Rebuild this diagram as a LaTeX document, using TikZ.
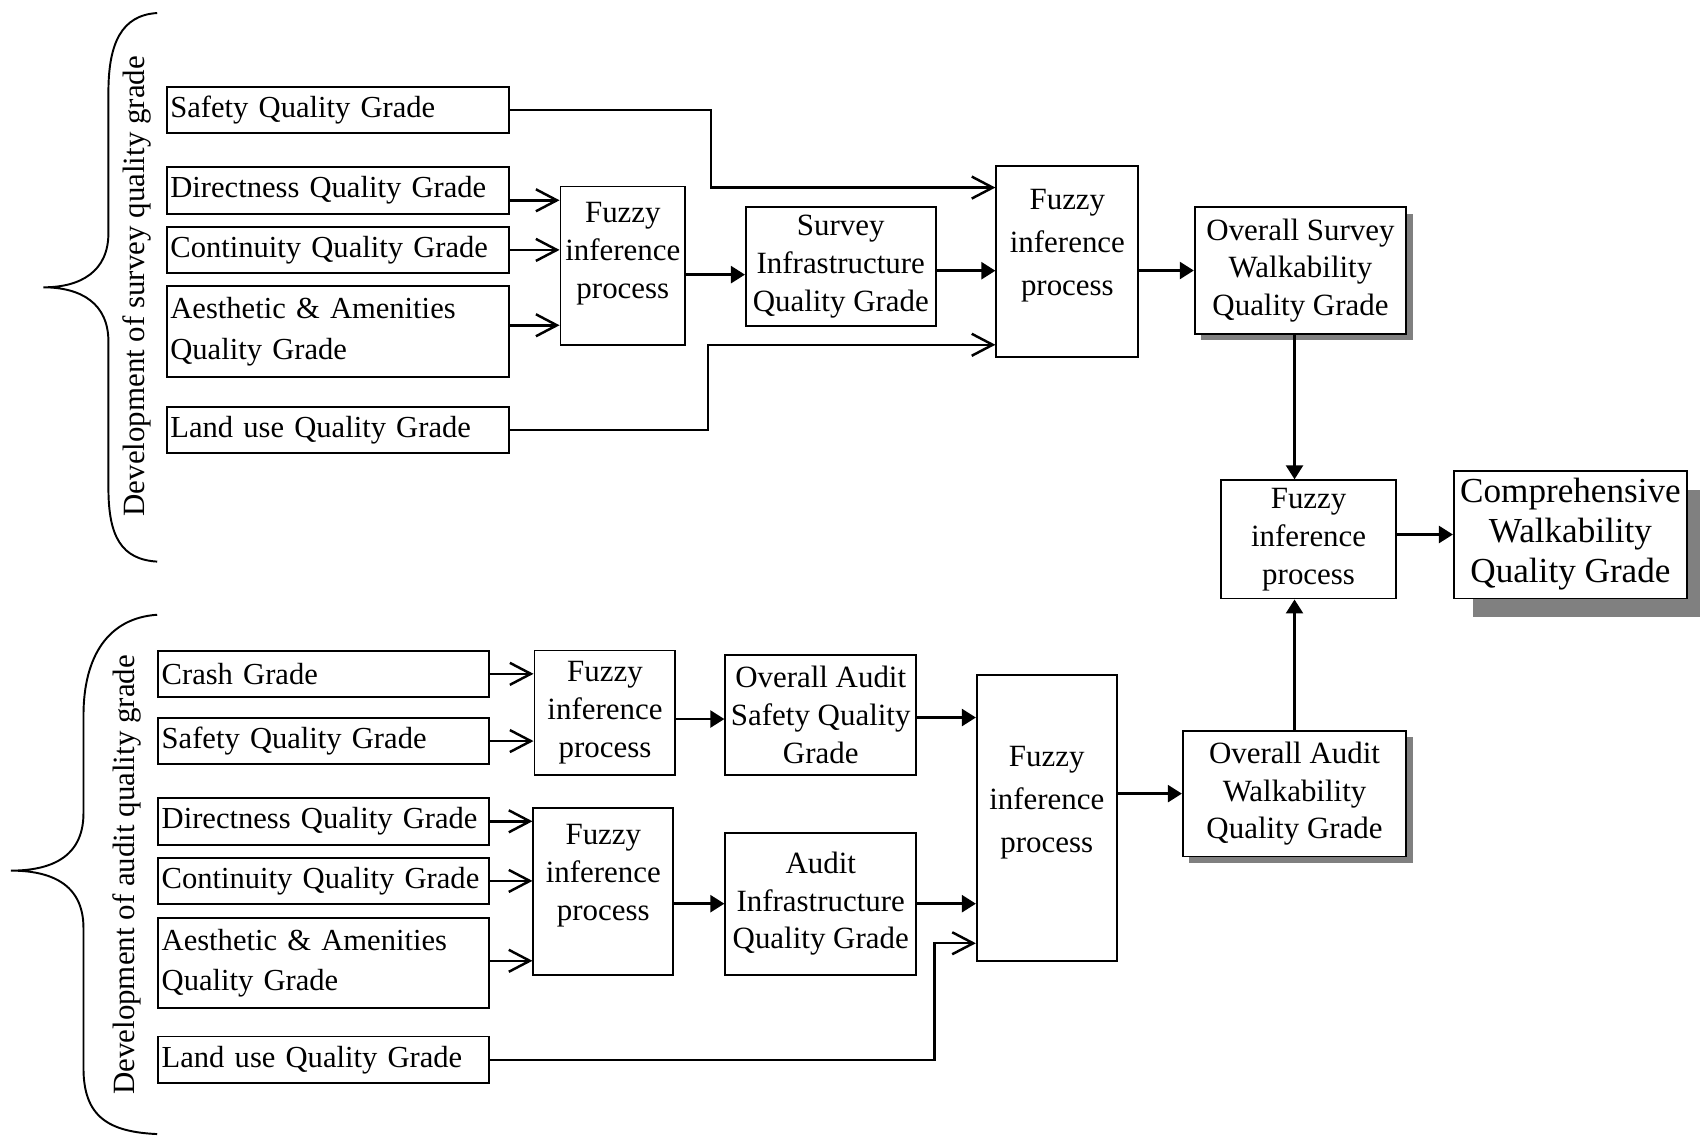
\documentclass[tikz,border=0pt]{standalone}
\usepackage{fontspec}
\setmainfont{Liberation Serif}
\usetikzlibrary{arrows.meta,shadows}
\newcommand\gradefont{\fontsize{17.4pt}{23pt}\selectfont}
\newcommand\fuzzyfont{\fontsize{17.6pt}{21.5pt}\selectfont}
\newcommand\compfont{\fontsize{20pt}{22.8pt}\selectfont}

\begin{document}
\begin{tikzpicture}[x=0.021684cm, y=-0.021684cm,
  box/.style={draw, line width=1.1pt, fill=white},
  grade/.style={box, anchor=west, align=left, inner xsep=2pt, inner ysep=0pt, font=\gradefont},
  sgrade/.style={grade, text width=6.71cm, minimum height=0.932cm},
  agrade/.style={grade, text width=6.47cm, minimum height=0.932cm},
  fuzzy/.style={box, align=center, inner sep=1pt, font=\fuzzyfont},
  smallshadow/.style={drop shadow={shadow xshift=0.13cm, shadow yshift=-0.13cm, fill=black!50, opacity=1}},
  bigshadow/.style={drop shadow={shadow xshift=0.38cm, shadow yshift=-0.38cm, fill=black!50, opacity=1}},
  openarr/.style={line width=1.4pt, -{Straight Barb[length=0.42cm,width=0.44cm]}},
  fillarr/.style={line width=1.4pt, -{Triangle[length=0.28cm,width=0.34cm]}},
  brace/.style={line width=1.1pt},
]
  \useasboundingbox (0,0) rectangle (1568,1048);

  % survey side
  \draw[brace] (145,12) .. controls (112,14) and (100,40) .. (100,85) -- (100,215)
    .. controls (100,250) and (75,265) .. (40,265) .. controls (75,265) and (100,280) .. (100,315)
    -- (100,450) .. controls (100,495) and (112,516) .. (145,518);
  \node[rotate=90, font=\fuzzyfont] (lblsurvey) at (126,264) {Development of survey quality grade};

  \node[sgrade] (saf) at (153,101.5) {Safety Quality Grade};
  \node[sgrade] (dir) at (153,175.5) {Directness Quality Grade};
  \node[sgrade] (con) at (153,230.5) {Continuity Quality Grade};
  \node[sgrade, minimum height=1.821cm] (aes) at (153,306) {Aesthetic \& Amenities\\Quality Grade};
  \node[sgrade] (lu) at (153,396.5) {Land use Quality Grade};

  \node[fuzzy, minimum width=2.494cm, minimum height=3.166cm] (fz1) at (574.5,245) {Fuzzy\\inference\\process\\[-4pt]\mbox{}};
  \node[fuzzy, minimum width=3.795cm, minimum height=2.385cm] (sinf) at (775.5,246) {Survey\\Infrastructure\\Quality Grade};
  \node[fuzzy, minimum width=2.841cm, minimum height=3.816cm] (fz2) at (984.5,241) {Fuzzy\\[3pt]inference\\[3pt]process\\\mbox{}};
  \node[fuzzy, smallshadow, minimum width=4.228cm, minimum height=2.537cm] (ovs) at (1199.5,249.5) {Overall Survey\\Walkability\\Quality Grade};

  \coordinate (j1) at (656,173);
  \coordinate (j2) at (653,318);
  \draw[openarr] (saf.east) -| (j1) -- (j1 -| fz2.west);
  \draw[openarr] ([yshift=-0.2cm]dir.east) -- ([yshift=-0.2cm]dir.east -| fz1.west);
  \draw[openarr] (con.east) -- (con.east -| fz1.west);
  \draw[openarr] ([yshift=0.13cm]aes.east) -- ([yshift=0.13cm]aes.east -| fz1.west);
  \draw[openarr] (lu.east) -| (j2) -- (j2 -| fz2.west);
  \draw[fillarr] ([yshift=-0.18cm]fz1.east) -- ([yshift=-0.18cm]fz1.east -| sinf.west);
  \draw[fillarr] ([yshift=-0.08cm]sinf.east) -- ([yshift=-0.08cm]sinf.east -| fz2.west);
  \draw[fillarr] (fz2.east |- ovs.west) -- (ovs.west);

  % final stage
  \node[fuzzy, minimum width=3.513cm, minimum height=2.364cm] (fzf) at (1207,497.5) {Fuzzy\\inference\\process};
  \node[box, bigshadow, align=center, inner sep=1pt, font=\compfont, minimum width=4.662cm, minimum height=2.559cm] (comp) at (1448.5,493) {Comprehensive\\Walkability\\Quality Grade};

  % audit side
  \draw[brace] (145,567) .. controls (100,570) and (77,605) .. (77,660) -- (77,750)
    .. controls (77,792) and (45,803) .. (10,803) .. controls (45,803) and (77,814) .. (77,856)
    -- (77,985) .. controls (77,1030) and (100,1044) .. (145,1046);
  \node[rotate=90, font=\fuzzyfont] (lblaudit) at (117,807) {Development of audit quality grade};

  \node[agrade] (cr) at (145,621.5) {Crash Grade};
  \node[agrade] (saf2) at (145,683.5) {Safety Quality Grade};
  \node[agrade] (dir2) at (145,757.5) {Directness Quality Grade};
  \node[agrade] (con2) at (145,812.5) {Continuity Quality Grade};
  \node[agrade, minimum height=1.8cm] (aes2) at (145,888.5) {Aesthetic \& Amenities\\Quality Grade};
  \node[agrade] (lu2) at (145,977.5) {Land use Quality Grade};

  \node[fuzzy, minimum width=2.819cm, minimum height=2.494cm] (fa1) at (558,657.5) {Fuzzy\\inference\\process};
  \node[fuzzy, minimum width=3.816cm, minimum height=2.407cm] (oas) at (757,659.5) {Overall Audit\\Safety Quality\\Grade};
  \node[fuzzy, minimum width=2.797cm, minimum height=3.339cm] (fa2) at (556.5,822) {Fuzzy\\inference\\process\\\mbox{}};
  \node[fuzzy, minimum width=3.816cm, minimum height=2.841cm] (ainf) at (757,833.5) {Audit\\Infrastructure\\Quality Grade};
  \node[fuzzy, minimum width=2.797cm, minimum height=5.703cm] (fa3) at (965.5,754.5) {Fuzzy\\[3pt]inference\\[3pt]process\\\mbox{}};
  \node[fuzzy, smallshadow, minimum width=4.467cm, minimum height=2.515cm] (ova) at (1194,732) {Overall Audit\\Walkability\\Quality Grade};

  \coordinate (j3) at (862,870);
  \draw[openarr] (cr.east) -- (cr.east -| fa1.west);
  \draw[openarr] (saf2.east) -- (saf2.east -| fa1.west);
  \draw[openarr] (dir2.east) -- (dir2.east -| fa2.west);
  \draw[openarr] (con2.east) -- (con2.east -| fa2.west);
  \draw[openarr] ([yshift=0.05cm]aes2.east) -- ([yshift=0.05cm]aes2.east -| fa2.west);
  \draw[openarr] (lu2.east) -| (j3) -- (j3 -| fa3.west);
  \draw[fillarr] ([yshift=-0.08cm]oas.west -| fa1.east) -- ([yshift=-0.08cm]oas.west);
  \draw[fillarr] ([yshift=-0.05cm]oas.east) -- ([yshift=-0.05cm]oas.east -| fa3.west);
  \draw[fillarr] (ainf.west -| fa2.east) -- (ainf.west);
  \draw[fillarr] (ainf.east) -- (ainf.east -| fa3.west);
  \draw[fillarr] (fa3.east |- ova.west) -- (ova.west);

  % to the final stage
  \draw[fillarr] (ova.north |- ovs.south) -- (ova.north |- fzf.north);
  \draw[fillarr] (ova.north) -- (ova.north |- fzf.south);
  \draw[fillarr] (fzf.east |- comp.west) -- (comp.west);
\end{tikzpicture}
\end{document}
